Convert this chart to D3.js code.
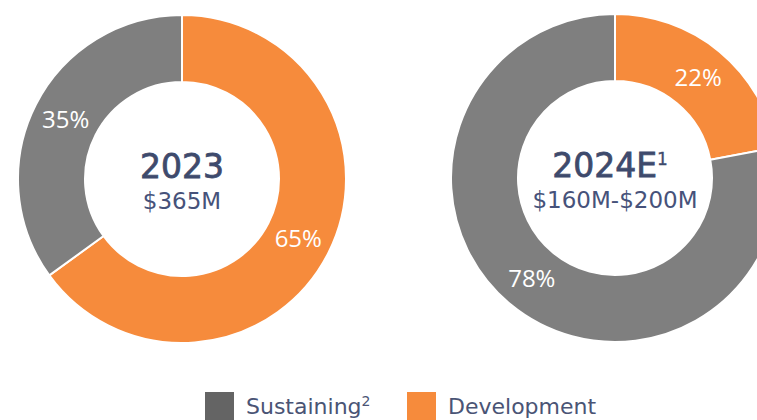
<!DOCTYPE html>
<html>
<head>
    <meta charset="utf-8">
    <title>Capital split</title>
    <script src="https://cdnjs.cloudflare.com/ajax/libs/d3/7.8.5/d3.min.js"></script>
    <style>
        body { margin: 0; background: #fff; }
    </style>
</head>
<body>
<script>
    // datos
    var categorias = ["Development", "Sustaining"];
    var anios = ["2023", "2024E"];
    var superindices = ["", "1"];
    var montos = ["$365M", "$160M-$200M"];
    var valores2023 = [65, 35];
    var valores2024 = [22, 78];
    var leyenda = ["Sustaining", "Development"];
    var leyendaSup = ["2", ""];

    var width = 757,
        height = 420,
        rExt = 164,
        rInt = 97;

    var colores = d3.scaleOrdinal()
        .domain(categorias)
        .range(["#f68b3c", "#7f7f7f"]);
    var coloresLeyenda = { "Sustaining": "#646464", "Development": "#f68b3c" };

    var svg = d3.select("body")
        .append("svg")
        .attr("width", width)
        .attr("height", height);

    var pie = d3.pie().sort(null).value(function(d) { return d.v; });
    var arco = d3.arc().innerRadius(rInt).outerRadius(rExt);

    var centros = [{ x: 182, y: 179 }, { x: 615, y: 178 }];
    var series = [valores2023, valores2024];

    series.forEach(function(vals, i) {
        var datos = vals.map(function(v, j) { return { cat: categorias[j], v: v }; });
        var g = svg.append("g")
            .attr("transform", "translate(" + centros[i].x + "," + centros[i].y + ")");

        g.selectAll("path")
            .data(pie(datos))
            .enter()
            .append("path")
            .attr("d", arco)
            .attr("fill", function(d) { return colores(d.data.cat); })
            .attr("stroke", "#fff")
            .attr("stroke-width", 2);

        g.selectAll("text.pct")
            .data(pie(datos))
            .enter()
            .append("text")
            .attr("class", "pct")
            .attr("transform", function(d) { return "translate(" + arco.centroid(d) + ")"; })
            .attr("text-anchor", "middle")
            .attr("dy", "0.36em")
            .style("font-family", "'Open Sans', sans-serif")
            .style("font-size", "24px")
            .style("fill", "#fff")
            .text(function(d) { return d.data.v + "%"; });

        // titulo central (un poco engrosado con stroke)
        var titulo = g.append("text")
            .attr("x", superindices[i] ? -5 : 0)
            .attr("y", -1)
            .attr("text-anchor", "middle")
            .style("font-family", "'DejaVu Sans', sans-serif")
            .style("font-size", "33px")
            .style("fill", "#3e4a6c")
            .style("stroke", "#3e4a6c")
            .style("stroke-width", 0.8)
            .text(anios[i]);
        if (superindices[i]) {
            titulo.append("tspan")
                .attr("dy", -12)
                .style("font-size", "17px")
                .style("stroke-width", 0.3)
                .text(superindices[i]);
        }

        g.append("text")
            .attr("text-anchor", "middle")
            .attr("y", 30)
            .style("font-family", "'DejaVu Sans', sans-serif")
            .style("font-size", "23px")
            .style("fill", "#46527a")
            .text(montos[i]);
    });

    // leyenda
    var posLeyenda = [205, 407];
    leyenda.forEach(function(nombre, i) {
        svg.append("rect")
            .attr("x", posLeyenda[i])
            .attr("y", 392)
            .attr("width", 29)
            .attr("height", 28)
            .attr("fill", coloresLeyenda[nombre]);
        var t = svg.append("text")
            .attr("x", posLeyenda[i] + 41)
            .attr("y", 414)
            .style("font-family", "'DejaVu Sans', sans-serif")
            .style("font-size", "22px")
            .style("fill", "#4a5475")
            .text(nombre);
        if (leyendaSup[i]) {
            t.append("tspan")
                .attr("dy", -8)
                .style("font-size", "14px")
                .text(leyendaSup[i]);
        }
    });
</script>
</body>
</html>
